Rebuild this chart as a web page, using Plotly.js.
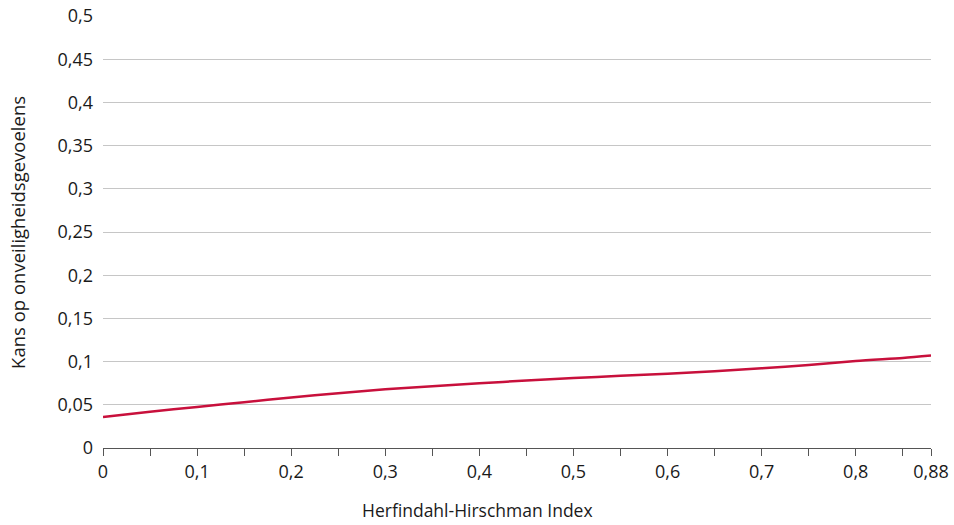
<!DOCTYPE html>
<html>
<head>
<meta charset="utf-8">
<script src="https://cdn.plot.ly/plotly-3.0.1.min.js"></script>
<style>html,body{margin:0;padding:0;background:#fff;}#chart{width:954px;height:525px;}</style>
</head>
<body>
<div id="chart"></div>
<script>
const hhi = [0, 0.05, 0.1, 0.15, 0.2, 0.25, 0.3, 0.35, 0.4, 0.45, 0.5, 0.55, 0.6, 0.65, 0.7, 0.75, 0.8, 0.85, 0.88];
const kans = [0.036, 0.042, 0.0475, 0.053, 0.0585, 0.0635, 0.068, 0.0715, 0.075, 0.078, 0.081, 0.0835, 0.086, 0.0888, 0.0922, 0.096, 0.1008, 0.1043, 0.107];

const xTickVals = [0, 0.05, 0.1, 0.15, 0.2, 0.25, 0.3, 0.35, 0.4, 0.45, 0.5, 0.55, 0.6, 0.65, 0.7, 0.75, 0.8, 0.85, 0.88];
const xTickText = ['0', '', '0,1', '', '0,2', '', '0,3', '', '0,4', '', '0,5', '', '0,6', '', '0,7', '', '0,8', '', '0,88'];
const yTickVals = [0, 0.05, 0.1, 0.15, 0.2, 0.25, 0.3, 0.35, 0.4, 0.45, 0.5];
const yTickText = ['0', '0,05', '0,1', '0,15', '0,2', '0,25', '0,3', '0,35', '0,4', '0,45', '0,5'];

const xTitle = 'Herfindahl-Hirschman Index';
const yTitle = 'Kans op onveiligheidsgevoelens';

const tickFont = {family: 'Open Sans, sans-serif', size: 18, color: '#1a1a1a'};
const titleFont = {family: 'Open Sans, sans-serif', size: 17.5, color: '#1a1a1a'};
const yTitleFont = {family: 'Open Sans, sans-serif', size: 18.5, color: '#1a1a1a'};

Plotly.newPlot('chart', [{
  x: hhi, y: kans, type: 'scatter', mode: 'lines',
  line: {color: '#c8103c', width: 2.5, shape: 'spline', smoothing: 0.8},
  hoverinfo: 'skip'
}], {
  width: 954, height: 525,
  margin: {l: 103, r: 23, t: 16, b: 77},
  paper_bgcolor: '#fff', plot_bgcolor: '#fff',
  showlegend: false,
  font: tickFont,
  xaxis: {
    range: [0, 0.88], tickmode: 'array', tickvals: xTickVals, ticktext: xTickText,
    ticks: 'outside', ticklen: 7, tickcolor: '#555', tickwidth: 1,
    showline: true, linecolor: '#555', linewidth: 1,
    showgrid: false, zeroline: false, fixedrange: true,
    tickfont: tickFont
  },
  yaxis: {
    range: [0, 0.5], tickmode: 'array', tickvals: yTickVals, ticktext: yTickText,
    ticks: '', showline: false, showgrid: true, gridcolor: '#c6c6c6', gridwidth: 1,
    zeroline: false, ticklabelstandoff: 9, fixedrange: true,
    tickfont: tickFont
  },
  annotations: [
    {text: xTitle, xref: 'paper', yref: 'paper', x: 0.4517, y: -0.1445, xanchor: 'center', yanchor: 'middle', showarrow: false, font: titleFont},
    {text: yTitle, xref: 'paper', yref: 'paper', x: -0.104, y: 0.5, xanchor: 'center', yanchor: 'middle', textangle: -90, showarrow: false, font: yTitleFont}
  ]
}, {displayModeBar: false, staticPlot: true});
</script>
</body>
</html>
